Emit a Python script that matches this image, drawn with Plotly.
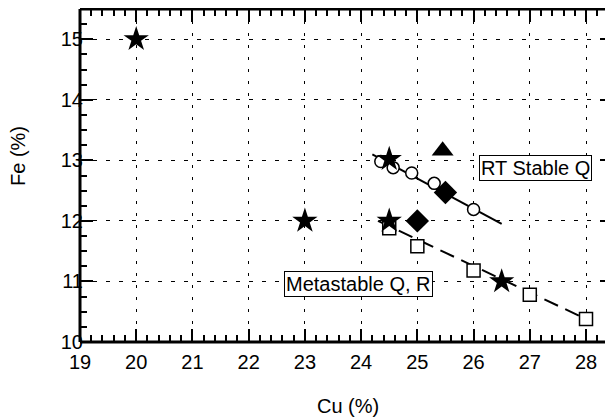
import plotly.graph_objects as go

# Data
star_cu = [20, 23, 24.5, 24.5, 26.5]
star_fe = [15, 12, 12, 13.02, 11]

circle_cu = [24.35, 24.57, 24.9, 25.3, 26.0]
circle_fe = [12.98, 12.88, 12.79, 12.62, 12.19]

square_cu = [24.5, 25.0, 26.0, 27.0, 28.0]
square_fe = [11.88, 11.58, 11.18, 10.78, 10.38]

diamond_cu = [25.5, 25.0]
diamond_fe = [12.47, 12.0]

triangle_cu = [25.45]
triangle_fe = [13.16]

stable_line_cu = [24.2, 26.5]
stable_line_fe = [13.1, 11.95]

meta_line_cu = [24.3, 28.0]
meta_line_fe = [12.0, 10.38]

x_ticks = list(range(19, 29))
y_ticks = list(range(10, 16))

FONT = "Liberation Sans, Arial, Helvetica, sans-serif"

fig = go.Figure()

fig.add_trace(go.Scatter(x=stable_line_cu, y=stable_line_fe, mode="lines",
                         line=dict(color="black", width=2), showlegend=False))
fig.add_trace(go.Scatter(x=meta_line_cu, y=meta_line_fe, mode="lines",
                         line=dict(color="black", width=2, dash="15px,8px"), showlegend=False))
fig.add_trace(go.Scatter(x=circle_cu, y=circle_fe, mode="markers",
                         marker=dict(symbol="circle", size=12, color="white",
                                     line=dict(color="black", width=1.5)), showlegend=False))
fig.add_trace(go.Scatter(x=square_cu, y=square_fe, mode="markers",
                         marker=dict(symbol="square", size=13, color="white",
                                     line=dict(color="black", width=1.5)), showlegend=False))
fig.add_trace(go.Scatter(x=diamond_cu, y=diamond_fe, mode="markers",
                         marker=dict(symbol="diamond", size=18, color="black",
                                     line=dict(color="black", width=0)), showlegend=False))
fig.add_trace(go.Scatter(x=triangle_cu, y=triangle_fe, mode="markers",
                         marker=dict(symbol="triangle-up", size=19, color="black",
                                     line=dict(color="black", width=0)), showlegend=False))
fig.add_trace(go.Scatter(x=star_cu, y=star_fe, mode="markers",
                         marker=dict(symbol="star", size=19, color="black",
                                     line=dict(color="black", width=0)), showlegend=False))

axis_common = dict(
    showline=False, mirror="ticks", ticks="inside", ticklen=13, tickwidth=2,
    tickcolor="black", showgrid=True, gridcolor="black", gridwidth=1,
    zeroline=False, tickfont=dict(family=FONT, size=20, color="black"),
)

fig.update_xaxes(range=[19, 28.48], tickmode="array", tickvals=x_ticks,
                 ticktext=[str(v) for v in x_ticks], griddash="3px,9px",
                 ticklabelstandoff=6,
                 minor=dict(dtick=0.2, tick0=19, ticks="inside", ticklen=7, tickwidth=2,
                            tickcolor="black", showgrid=False),
                 **axis_common)
fig.update_yaxes(range=[10, 15.5], tickmode="array", tickvals=y_ticks,
                 ticktext=[str(v) for v in y_ticks], griddash="4px,9px",
                 ticklabelstandoff=-4,
                 minor=dict(dtick=0.25, tick0=10, ticks="inside", ticklen=7, tickwidth=2,
                            tickcolor="black", showgrid=False),
                 **axis_common)

# spines (left, bottom, top) - right side is cut off in the reference
for x0, y0, x1, y1 in [(0, 0, 0, 1), (0, 0, 1, 0), (0, 1, 1, 1)]:
    fig.add_shape(type="line", xref="paper", yref="paper", x0=x0, y0=y0, x1=x1, y1=y1,
                  line=dict(color="black", width=3))

fig.add_annotation(x=27.11, y=12.87, xref="x", yref="y", text="RT Stable Q", showarrow=False,
                   font=dict(family=FONT, size=20, color="black"),
                   bgcolor="white", bordercolor="black", borderwidth=1, borderpad=1)
fig.add_annotation(x=23.96, y=10.95, xref="x", yref="y", text="Metastable Q, R", showarrow=False,
                   font=dict(family=FONT, size=20, color="black"),
                   bgcolor="white", bordercolor="black", borderwidth=1, borderpad=1)

fig.add_annotation(x=0.503, y=-0.192, xref="paper", yref="paper", text="Cu (%)", showarrow=False,
                   font=dict(family=FONT, size=20, color="black"), xanchor="center", yanchor="middle")
fig.add_annotation(x=-0.1163, y=0.5586, xref="paper", yref="paper", text="Fe (%)", showarrow=False,
                   textangle=-90, font=dict(family=FONT, size=20, color="black"),
                   xanchor="center", yanchor="middle")

# The page body has an 8px margin, so the figure is 8px smaller and offsets are reduced by 8px.
fig.update_layout(width=605, height=409, margin=dict(l=72, r=0, t=1, b=75),
                  plot_bgcolor="white", paper_bgcolor="white",
                  font=dict(family=FONT, size=20, color="black"))

fig.write_html("out.html")
